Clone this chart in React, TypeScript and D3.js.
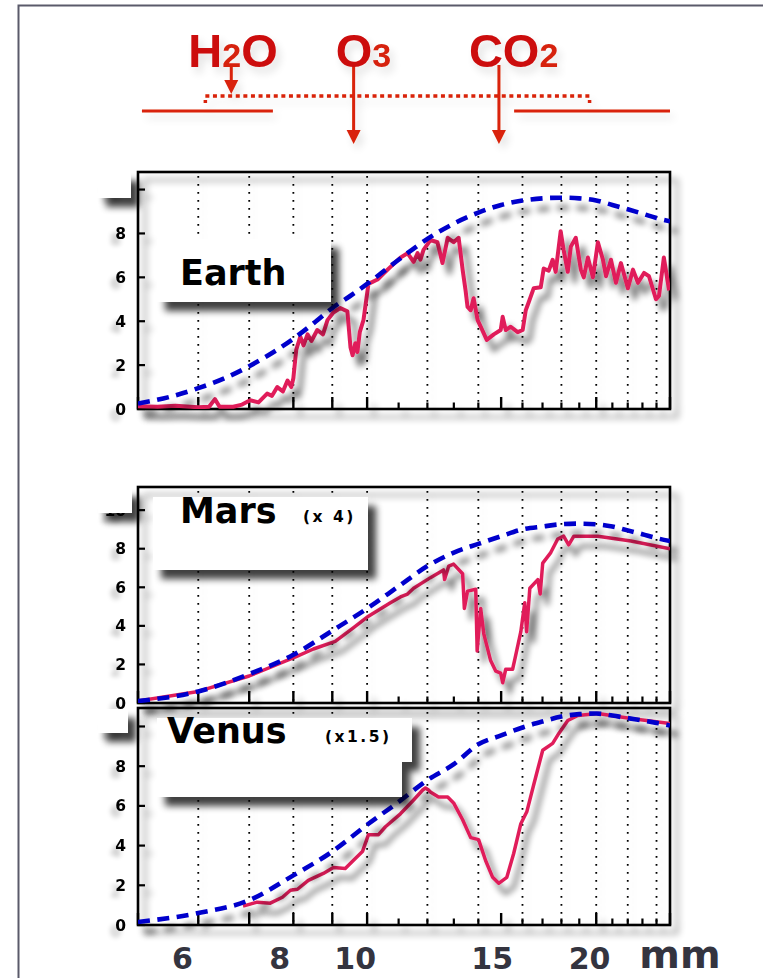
import React from 'react';
import * as d3 from 'd3';

const W = 763;
const H = 978;

// wavelength axis (micrometres), log scale
const wlDomain = [5, 25];
const gridWl = [6, 7, 8, 9, 10, 12, 14, 16, 18, 20, 22, 24];
const majorTickWl = [5, 6, 7, 8, 9, 10, 15, 20, 25];
const minorTickWl = [11, 12, 13, 14, 16, 17, 18, 19, 21, 22, 23, 24];
const yTickValues = [0, 2, 4, 6, 8, 10];
const bottomLabelWl = [6, 8, 10, 15, 20];
const unitLabel = 'mm';

// panel names / scale factors
const planetNames = ['Earth', 'Mars', 'Venus'];
const planetFactors = ['', '(x 4)', '(x1.5)'];
const planetYMax = [10.8, 11.2, 10.93];

// blackbody reference curves (dashed blue)
const earthBlackbody: [number, number][] = [
  [5, 0.25], [5.5, 0.55], [6, 0.95], [6.5, 1.4], [7, 1.95], [7.5, 2.55], [8, 3.2], [8.5, 3.9],
  [9, 4.6], [9.5, 5.15], [10, 5.7], [11, 6.8], [12, 7.75], [13, 8.45], [14, 8.95], [15, 9.3],
  [16, 9.5], [17, 9.6], [18, 9.63], [19, 9.6], [20, 9.5], [21, 9.3], [22, 9.1], [23, 8.9],
  [24, 8.7], [25, 8.55],
];
const marsBlackbody: [number, number][] = [
  [5, 0.1], [6, 0.6], [7, 1.5], [8, 2.5], [9, 3.75], [10, 4.9], [11, 6.05], [12, 7.1],
  [13, 7.8], [14, 8.25], [15, 8.65], [16, 9.0], [17, 9.15], [18, 9.27], [19, 9.3], [20, 9.27],
  [21, 9.15], [22, 8.95], [23, 8.75], [24, 8.55], [25, 8.4],
];
const venusBlackbody: [number, number][] = [
  [5, 0.15], [6, 0.6], [7, 1.25], [8, 2.5], [9, 3.7], [10, 5.05], [11, 6.2], [12, 7.3],
  [13, 8.1], [14, 9.1], [15, 9.55], [16, 9.95], [17, 10.25], [18, 10.5], [19, 10.62],
  [20, 10.65], [21, 10.55], [22, 10.42], [23, 10.3], [24, 10.18], [25, 10.05],
];

// measured spectra (solid crimson)
const earthSpectrum: [number, number][] = [
  [5.0, 0.12], [5.3, 0.1], [5.6, 0.15], [6.0, 0.08], [6.2, 0.1], [6.31, 0.45], [6.4, 0.1],
  [6.67, 0.1], [6.85, 0.2], [7.02, 0.4], [7.2, 0.3], [7.39, 0.7], [7.5, 0.6], [7.62, 1.0],
  [7.75, 0.8], [7.86, 1.3], [7.95, 1.0], [8.0, 1.4], [8.07, 2.7], [8.17, 3.3], [8.25, 2.9],
  [8.35, 3.4], [8.45, 3.1], [8.6, 3.6], [8.75, 3.4], [8.87, 4.05], [9.03, 4.4], [9.22, 4.6],
  [9.42, 4.45], [9.51, 2.8], [9.57, 2.45], [9.65, 3.0], [9.71, 2.6], [9.78, 3.5], [9.89, 4.05],
  [10.04, 5.7], [10.32, 5.9], [10.64, 6.35], [11.06, 6.9], [11.3, 7.1], [11.51, 6.7],
  [11.65, 7.1], [11.75, 6.8], [11.86, 7.25], [12.11, 7.7], [12.37, 7.6], [12.56, 6.65],
  [12.76, 7.8], [12.99, 7.6], [13.19, 7.8], [13.35, 6.35], [13.47, 5.4], [13.55, 4.65],
  [13.68, 4.5], [13.8, 5.05], [13.97, 4.05], [14.1, 3.75], [14.36, 3.15], [14.67, 3.4],
  [14.98, 3.6], [15.07, 4.2], [15.21, 3.6], [15.44, 3.75], [15.77, 3.5], [16.01, 3.6],
  [16.16, 4.5], [16.3, 4.85], [16.55, 5.5], [16.91, 5.55], [17.06, 6.4], [17.32, 6.3],
  [17.53, 6.8], [17.69, 6.25], [17.96, 8.1], [18.12, 7.25], [18.35, 6.25], [18.52, 7.4],
  [18.8, 7.8], [19.09, 6.35], [19.26, 6.0], [19.5, 6.9], [19.8, 6.0], [20.1, 7.6], [20.41, 6.8],
  [20.6, 6.05], [20.91, 6.8], [21.23, 5.75], [21.55, 6.65], [22.01, 5.5], [22.35, 6.35],
  [22.69, 5.75], [23.11, 6.2], [23.46, 6.05], [23.96, 5.0], [24.18, 5.15], [24.54, 6.9],
  [24.93, 5.4],
];
const marsSpectrum: [number, number][] = [
  [5, 0.1], [6, 0.6], [7, 1.4], [8.07, 2.4], [8.5, 2.8], [9.08, 3.2], [9.59, 3.9], [10.04, 4.5],
  [10.73, 5.2], [11.06, 5.5], [11.3, 5.65], [11.51, 5.95], [12.11, 6.5], [12.6, 6.9],
  [12.64, 6.4], [12.8, 7.1], [12.99, 7.2], [13.35, 6.7], [13.42, 4.9], [13.55, 5.8],
  [13.89, 5.9], [13.95, 2.7], [14.1, 4.9], [14.23, 3.6], [14.53, 2.2], [14.76, 1.65],
  [14.98, 1.55], [15.07, 1.05], [15.21, 1.75], [15.53, 1.75], [15.68, 2.5], [15.92, 3.7],
  [16.11, 5.2], [16.2, 3.7], [16.36, 5.95], [16.76, 6.4], [16.88, 5.65], [17.01, 7.25],
  [17.43, 7.8], [17.8, 8.5], [18.12, 8.65], [18.4, 8.2], [18.69, 8.65], [20.1, 8.65],
  [22.21, 8.4], [25, 8.0],
];
const venusSpectrum: [number, number][] = [
  [6.87, 0.95], [7.17, 1.15], [7.46, 1.1], [7.74, 1.4], [7.93, 1.75], [8.1, 1.8], [8.37, 2.25],
  [8.76, 2.6], [9.03, 2.9], [9.36, 2.85], [9.59, 3.25], [9.86, 3.7], [10.04, 4.55],
  [10.35, 4.55], [10.57, 4.95], [11.06, 5.6], [11.51, 6.3], [11.83, 6.8], [11.93, 6.9],
  [12.04, 6.8], [12.11, 6.7], [12.41, 6.45], [12.76, 6.45], [12.99, 6.15], [13.35, 5.3],
  [13.68, 4.4], [14.01, 4.3], [14.31, 3.25], [14.62, 2.4], [14.89, 2.1], [15.26, 2.4],
  [15.58, 3.6], [15.92, 5.1], [16.21, 5.7], [16.55, 7.05], [17.01, 8.8], [17.53, 9.15],
  [17.86, 9.65], [18.35, 10.3], [18.92, 10.55], [20.1, 10.65], [22.21, 10.4], [25, 10.15],
];

// absorber annotations
const absorberMain = [['H', '', 'O'], ['O', ''], ['CO', '']];
const absorberSub = [['', '2', ''], ['', '3'], ['', '2']];
const absorberArrowWl = [6.63, 9.6, 14.9];
const continuumBandWl = [6.13, 19.6];
const opaqueBandsWl: [number, number][] = [[5.06, 7.52], [15.6, 25]];

const RED_TXT = '#cc0a0a';
const RED_LN = '#d92308';
const SPEC = '#e01f5a';
const BB = '#0000cc';
const BOLD = '"DejaVu Sans", Verdana, sans-serif';

export default function App() {
  const x = d3.scaleLog().domain(wlDomain).range([138, 670]);
  const labelX = d3.scaleLog().domain([6, 20]).range([182.5, 589.5]);

  const layouts = [
    { top: 172, bottom: 409, specW: 4, box: [[157, 239, 174, 63]], small: [98, 172, 33, 26],
      name: [180, 285], factor: [0, 0] },
    { top: 487, bottom: 703, specW: 3.5, box: [[153, 497, 215, 73]], small: [98, 488, 34, 25],
      name: [180, 523], factor: [303, 522] },
    { top: 708, bottom: 925, specW: 3.5, box: [[157, 718, 255, 44], [157, 718, 245, 79]],
      small: [98, 709, 30, 24], name: [167, 743], factor: [325, 742] },
  ];
  const bbs = [earthBlackbody, marsBlackbody, venusBlackbody];
  const specs = [earthSpectrum, marsSpectrum, venusSpectrum];

  const arrowTop = [67, 65, 65];
  const arrowTip = [94, 144, 144];
  const textOffset = [-43, -18, -30];

  return (
    <svg width={W} height={H} style={{ position: 'absolute', left: 0, top: 0, background: '#fff' }}
      xmlns="http://www.w3.org/2000/svg">
      <defs>
        <filter id="shLine" filterUnits="userSpaceOnUse" x="0" y="0" width={W} height={H}>
          <feGaussianBlur in="SourceAlpha" stdDeviation="3.2" />
          <feOffset dx="7" dy="10" />
          <feComponentTransfer><feFuncA type="linear" slope="0.55" /></feComponentTransfer>
          <feMerge><feMergeNode /><feMergeNode in="SourceGraphic" /></feMerge>
        </filter>
        <filter id="shFrame" filterUnits="userSpaceOnUse" x="0" y="0" width={W} height={H}>
          <feGaussianBlur in="SourceAlpha" stdDeviation="3.5" />
          <feOffset dx="7" dy="8" />
          <feComponentTransfer><feFuncA type="linear" slope="0.4" /></feComponentTransfer>
          <feMerge><feMergeNode /><feMergeNode in="SourceGraphic" /></feMerge>
        </filter>
        <filter id="shBox" filterUnits="userSpaceOnUse" x="0" y="0" width={W} height={H}>
          <feGaussianBlur in="SourceAlpha" stdDeviation="3.5" />
          <feOffset dx="8" dy="9" />
          <feComponentTransfer><feFuncA type="linear" slope="0.75" /></feComponentTransfer>
          <feMerge><feMergeNode /><feMergeNode in="SourceGraphic" /></feMerge>
        </filter>
        <filter id="shGrid" filterUnits="userSpaceOnUse" x="0" y="0" width={W} height={H}>
          <feGaussianBlur in="SourceAlpha" stdDeviation="3" />
          <feOffset dx="5" dy="4" />
          <feComponentTransfer><feFuncA type="linear" slope="0.18" /></feComponentTransfer>
          <feMerge><feMergeNode /><feMergeNode in="SourceGraphic" /></feMerge>
        </filter>
        <filter id="shText" filterUnits="userSpaceOnUse" x="0" y="0" width={W} height={H}>
          <feGaussianBlur in="SourceAlpha" stdDeviation="2.5" />
          <feOffset dx="-5" dy="6" />
          <feComponentTransfer><feFuncA type="linear" slope="0.25" /></feComponentTransfer>
          <feMerge><feMergeNode /><feMergeNode in="SourceGraphic" /></feMerge>
        </filter>
        <filter id="glow" filterUnits="userSpaceOnUse" x="0" y="0" width={W} height={H}>
          <feGaussianBlur in="SourceAlpha" stdDeviation="4" />
          <feOffset dx="4" dy="6" />
          <feComponentTransfer><feFuncA type="linear" slope="0.12" /></feComponentTransfer>
          <feMerge><feMergeNode /><feMergeNode in="SourceGraphic" /></feMerge>
        </filter>
        {layouts.map((L, i) => (
          <clipPath id={`clip${i}`} key={i}>
            <rect x={138} y={L.top} width={670 - 138} height={L.bottom - L.top} />
          </clipPath>
        ))}
      </defs>

      {/* outer frame */}
      <path d={`M18.5,${H}V5.5H${W}`} fill="none" stroke="#5a5a6a" strokeWidth={2} />

      {/* absorber annotations */}
      <g filter="url(#glow)">
        {opaqueBandsWl.map((b, i) => (
          <line key={i} x1={x(b[0])} x2={x(b[1])} y1={111} y2={111} stroke={RED_LN} strokeWidth={3} />
        ))}
        <line x1={x(continuumBandWl[0])} x2={x(continuumBandWl[1])} y1={96} y2={96}
          stroke={RED_LN} strokeWidth={3.5} strokeDasharray="4 3.6" />
        {continuumBandWl.map((w, i) => (
          <line key={i} x1={x(w)} x2={x(w)} y1={100} y2={107} stroke={RED_LN} strokeWidth={3.5}
            strokeDasharray="3 4" />
        ))}
        {absorberArrowWl.map((w, i) => {
          const ax = x(w);
          return (
            <g key={i}>
              <line x1={ax} x2={ax} y1={arrowTop[i]} y2={arrowTip[i] - 12} stroke={RED_LN} strokeWidth={3} />
              <path d={`M${ax - 7},${arrowTip[i] - 14}L${ax + 7},${arrowTip[i] - 14}L${ax},${arrowTip[i]}Z`}
                fill={RED_LN} />
            </g>
          );
        })}
        {absorberMain.map((parts, i) => (
          <text key={i} x={x(absorberArrowWl[i]) + textOffset[i]} y={67} fill={RED_TXT}
            fontFamily='"Liberation Sans", Arial, sans-serif' fontWeight="bold" fontSize={47}>
            {parts.map((p, j) =>
              p ? <tspan key={j}>{p}</tspan> :
                <tspan key={j} fontSize={34} fill="#d62010">{absorberSub[i][j]}</tspan>
            )}
          </text>
        ))}
      </g>

      {layouts.map((L, i) => {
        const y = d3.scaleLinear().domain([0, planetYMax[i]]).range([L.bottom, L.top]);
        const bbLine = d3.line<[number, number]>().x(d => x(d[0])).y(d => y(d[1])).curve(d3.curveMonotoneX);
        const spLine = d3.line<[number, number]>().x(d => x(d[0])).y(d => y(d[1])).curve(d3.curveLinear);
        return (
          <g key={i}>
            {/* dotted grid */}
            <g filter="url(#shGrid)">
              {gridWl.map(w => (
                <line key={w} x1={x(w)} x2={x(w)} y1={L.top + 4} y2={L.bottom} stroke="#000"
                  strokeWidth={1.8} strokeDasharray="1.8 6.2" />
              ))}
            </g>
            {/* frame */}
            <g filter="url(#shFrame)">
              <rect x={138} y={L.top} width={670 - 138} height={L.bottom - L.top} fill="none"
                stroke="#000" strokeWidth={2.6} />
              {majorTickWl.map(w => (
                <line key={'M' + w} x1={x(w)} x2={x(w)} y1={L.bottom} y2={L.bottom - 12}
                  stroke="#000" strokeWidth={2.4} />
              ))}
              {minorTickWl.map(w => (
                <line key={'m' + w} x1={x(w)} x2={x(w)} y1={L.bottom} y2={L.bottom - 6.5}
                  stroke="#000" strokeWidth={2.2} />
              ))}
              {yTickValues.map(v => (
                <line key={'y' + v} x1={138} x2={145} y1={y(v)} y2={y(v)} stroke="#000" strokeWidth={2.2} />
              ))}
            </g>
            {/* y tick labels */}
            <g filter="url(#shText)">
              {yTickValues.map(v => (
                <text key={v} x={126} y={y(v)} dy="0.36em" textAnchor="end" fontFamily={BOLD}
                  fontWeight="bold" fontSize={15.5} fill="#000">{v}</text>
              ))}
            </g>
            {/* curves */}
            <g filter="url(#shLine)">
              <g clipPath={`url(#clip${i})`}>
                <path d={spLine(specs[i]) || ''} fill="none" stroke={SPEC} strokeWidth={L.specW}
                  strokeLinejoin="round" />
              </g>
            </g>
            <g filter="url(#shLine)">
              <g clipPath={`url(#clip${i})`}>
                <path d={bbLine(bbs[i]) || ''} fill="none" stroke={BB} strokeWidth={4.6}
                  strokeDasharray="12 7.5" />
              </g>
            </g>
            {/* label boxes */}
            <g filter="url(#shBox)">
              <rect x={L.small[0]} y={L.small[1]} width={L.small[2]} height={L.small[3]} fill="#fff" />
              {L.box.map((b, k) => (
                <rect key={k} x={b[0]} y={b[1]} width={b[2]} height={b[3]} fill="#fff" />
              ))}
            </g>
            <text x={L.name[0]} y={L.name[1]} fontFamily={BOLD} fontWeight="bold" fontSize={35}
              fill="#000">{planetNames[i]}</text>
            {planetFactors[i] && (
              <text x={L.factor[0]} y={L.factor[1]} fontFamily={BOLD} fontWeight="bold" fontSize={15.5}
                letterSpacing={2.5} fill="#000">{planetFactors[i]}</text>
            )}
          </g>
        );
      })}

      {/* bottom wavelength labels */}
      <g>
        {bottomLabelWl.map(w => (
          <text key={w} x={labelX(w)} y={969} textAnchor="middle" fontFamily={BOLD} fontWeight="bold"
            fontSize={30} fill="#34343f">{w}</text>
        ))}
        <text x={680} y={968} textAnchor="middle" fontFamily={BOLD} fontWeight="bold" fontSize={39}
          fill="#34343f">{unitLabel}</text>
      </g>
    </svg>
  );
}
